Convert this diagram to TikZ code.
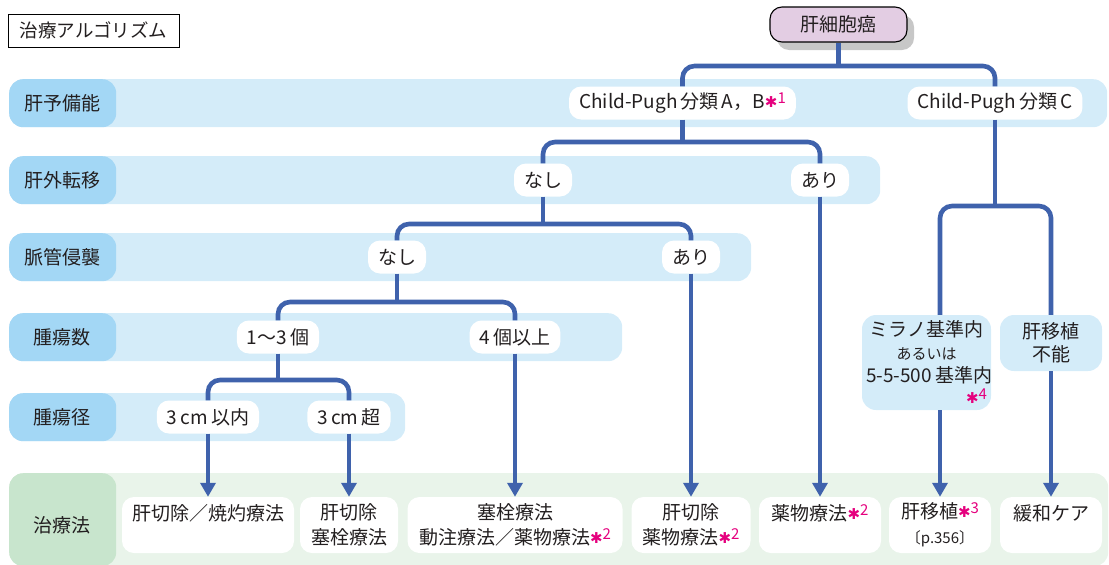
\documentclass[tikz,border=0pt]{standalone}
\usepackage{fontspec}
\setmainfont{Noto Sans CJK JP}
\newfontfamily\symfont{DejaVu Sans}
\usetikzlibrary{arrows.meta,shadows}

\definecolor{flow}{HTML}{3F62AC}
\definecolor{bandblue}{HTML}{D4ECF9}
\definecolor{labblue}{HTML}{A3D7F5}
\definecolor{bandgreen}{HTML}{E9F4EA}
\definecolor{labgreen}{HTML}{C8E5CD}
\definecolor{topfill}{HTML}{E3CDE3}
\definecolor{ink}{HTML}{231F20}
\definecolor{notepink}{HTML}{E5007E}
\newcommand{\chu}[1]{{\color{notepink}\raisebox{1.5pt}{\symfont\fontsize{15}{15}\selectfont ✱}\raisebox{.5ex}{\fontsize{15}{15}\selectfont #1}}}

\begin{document}
\begin{tikzpicture}
	[x=1pt,y=-1pt,font=\fontsize{19}{25}\selectfont,text=ink,
		band/.style={rounded corners=14pt,inner sep=0pt,anchor=north west,minimum height=48pt,
			path picture={\fill[#1] (path picture bounding box.north west) rectangle ([xshift=107pt]path picture bounding box.south west);}},
		pill/.style={fill=white,rounded corners=12pt,minimum height=33pt,inner xsep=10pt,inner ysep=0pt},
		leaf/.style={pill,minimum height=56pt,align=center,inner ysep=2pt},
		conn/.style={flow,line width=4.6pt,rounded corners=12pt},
		arr/.style={conn,-{Triangle[width=15pt,length=14pt]}}]

	\useasboundingbox (0,0) rectangle (1109,565);

	% rows
	\node[band=labblue,fill=bandblue,minimum width=1098pt] (b1) at (9,79) {};
	\node[band=labblue,fill=bandblue,minimum width=871pt] (b2) at (9,156) {};
	\node[band=labblue,fill=bandblue,minimum width=742pt] (b3) at (9,233) {};
	\node[band=labblue,fill=bandblue,minimum width=613pt] (b4) at (9,313) {};
	\node[band=labblue,fill=bandblue,minimum width=396pt] (b5) at (9,393) {};
	\node[band=labgreen,fill=bandgreen,minimum width=1099pt,minimum height=93pt] (b6) at (9,473) {};

	\node (l1) at (62,103) {肝予備能};
	\node (l2) at (62,180) {肝外転移};
	\node (l3) at (62,257) {脈管侵襲};
	\node (l4) at (62,337) {腫瘍数};
	\node (l5) at (62,417) {腫瘍径};
	\node (l6) at (62,525) {治療法};

	\node[draw=black,line width=1pt,minimum width=171pt,minimum height=33pt,inner sep=0pt,
		font=\fontsize{18.5}{20}\selectfont] (title) at (93.5,30.5) {治療アルゴリズム};
	\node[draw=black,line width=1.1pt,fill=topfill,rounded corners=12pt,minimum width=137pt,minimum height=35pt,
		drop shadow={shadow xshift=7pt,shadow yshift=-8pt,fill=black!22,opacity=1}] (hcc) at (838.5,24.5) {肝細胞癌};

	% conditions
	\node[pill] (cpab) at (682.5,103) {Child-Pugh\,分類\,A，B\chu{1}};
	\node[pill] (cpc) at (995,103) {Child-Pugh\,分類\,C};
	\node[pill] (none1) at (543,180) {なし};
	\node[pill] (yes1) at (820,180) {あり};
	\node[pill] (none2) at (397,257) {なし};
	\node[pill] (yes2) at (691,257) {あり};
	\node[pill] (few) at (278,337) {1〜3\,個};
	\node[pill] (many) at (515,337) {4\,個以上};
	\node[pill] (small) at (208,417) {3\,cm\,以内};
	\node[pill] (large) at (349,417) {3\,cm\,超};

	\node[fill=bandblue,rounded corners=14pt,minimum width=129pt,minimum height=95pt,text width=121pt,
		align=center,inner sep=4pt,font=\fontsize{19}{23}\selectfont] (milan) at (926.5,362.5)
		{ミラノ基準内\\{\fontsize{15}{15}\selectfont あるいは}\\\mbox{5-5-500\,基準内}\\\hfill\chu{4}};
	\node[fill=bandblue,rounded corners=14pt,minimum width=102pt,minimum height=56pt,align=center,
		inner sep=0pt,font=\fontsize{19}{23}\selectfont] (nolt) at (1051,343) {肝移植\\不能};

	% treatments
	\node[leaf,minimum width=168pt] (t1) at (208,525) {肝切除／焼灼療法\\\mbox{}};
	\node[leaf,minimum width=98pt] (t2) at (349,525) {肝切除\\塞栓療法};
	\node[leaf,minimum width=215pt] (t3) at (515,525) {塞栓療法\\動注療法／薬物療法\chu{2}};
	\node[leaf,minimum width=119pt] (t4) at (691,525) {肝切除\\薬物療法\chu{2}};
	\node[leaf,minimum width=122pt] (t5) at (820,525) {薬物療法\chu{2}\\\mbox{}};
	\node[leaf,minimum width=102pt] (t6) at (940,525) {肝移植\chu{3}\\{\fontsize{15}{15}\selectfont〔p.356〕}};
	\node[leaf,minimum width=102pt] (t7) at (1051,525) {緩和ケア\\\mbox{}};

	% branches
	\draw[conn] (hcc.south) -- (hcc.south |- 0,66);
	\draw[conn] (cpab.north) |- (hcc.south |- 0,66) -| (cpc.north);
	\draw[conn] (cpab.south) -- (cpab.south |- 0,142);
	\draw[conn] (none1.north) |- (cpab.south |- 0,142) -| (yes1.north);
	\draw[conn] (none1.south) -- (none1.south |- 0,224);
	\draw[conn] (none2.north) |- (none1.south |- 0,224) -| (yes2.north);
	\draw[conn] (none2.south) -- (none2.south |- 0,302);
	\draw[conn] (few.north) |- (none2.south |- 0,302) -| (many.north);
	\draw[conn] (few.south) -- (few.south |- 0,380);
	\draw[conn] (small.north) |- (few.south |- 0,380) -| (large.north);
	\draw[conn] (cpc.south) -- (cpc.south |- 0,206);
	\draw[conn] (t6.north |- milan.north) |- (cpc.south |- 0,206) -| (nolt.north);

	\draw[arr] (small) -- (t1);
	\draw[arr] (large) -- (t2);
	\draw[arr] (many) -- (t3);
	\draw[arr] (yes2) -- (t4);
	\draw[arr] (yes1) -- (t5);
	\draw[arr] (t6.north |- milan.south) -- (t6);
	\draw[arr] (nolt) -- (t7);

\end{tikzpicture}
\end{document}
